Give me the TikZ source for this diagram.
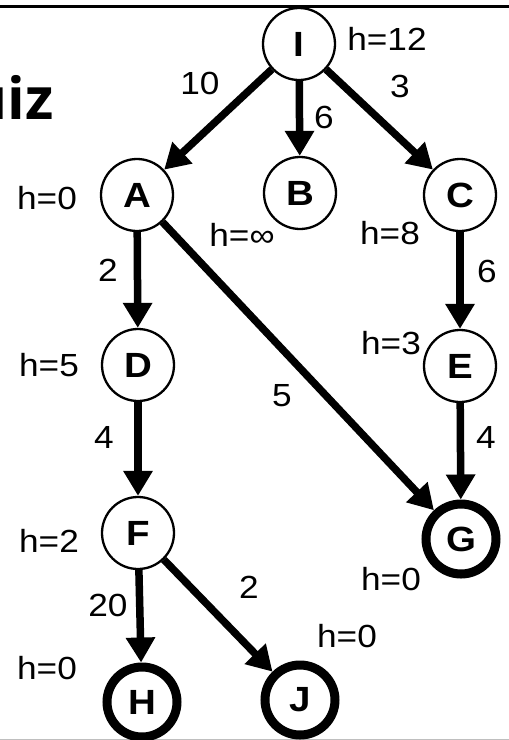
\documentclass[tikz,border=0pt]{standalone}
\usepackage{fontspec}
\setmainfont{Liberation Sans}
\newfontfamily\lblfont[FakeStretch=1.1]{Liberation Sans}
\newfontfamily\nodefont[FakeStretch=1.1]{Liberation Sans}
\newfontfamily\quizfont{Open Sans}
\usetikzlibrary{arrows.meta}
\begin{document}
\begin{tikzpicture}[x=1pt,y=-1pt,
  state/.style={circle,draw,line width=2.3pt,minimum size=72pt,inner sep=0pt,
    font=\nodefont\bfseries\fontsize{35}{35}\selectfont},
  goal/.style={state,line width=9pt,minimum size=70pt},
  lbl/.style={font=\lblfont\fontsize{32}{32}\selectfont,inner sep=0pt},
  arr/.style={line width=7.5pt,-{Triangle[length=25pt,width=28pt]}}
]
\useasboundingbox (0,0) rectangle (509,740);
\fill[white] (0,0) rectangle (509,740);
\draw[line width=3pt] (0,6) -- (509,6);
\draw[gray!50,line width=1pt] (0,739) -- (509,739);
\node[anchor=base east,font=\quizfont\fontsize{58}{58}\selectfont\bfseries,inner sep=0pt] (title) at (54,119) {Quiz};

\node[state] (I) at (299,44) {I};
\node[state] (A) at (137,195) {A};
\node[state] (B) at (300,193) {B};
\node[state] (C) at (460,195) {C};
\node[state] (D) at (138,365) {D};
\node[state] (E) at (460,366) {E};
\node[state] (F) at (138,533) {F};
\node[goal] (G) at (461,539) {G};
\node[goal] (H) at (142,702) {H};
\node[goal] (J) at (300,700) {J};

\draw[arr] (I) -- (A);
\draw[arr] (I) -- (B);
\draw[arr] (I) -- (C);
\draw[arr] (A) -- (D);
\draw[arr] (A) -- (G);
\draw[arr] (C) -- (E);
\draw[arr] (D) -- (F);
\draw[arr] (E) -- (G);
\draw[arr] (F) -- (H);
\draw[arr] (F) -- (J);

\node[lbl] (hI) at (387,39) {h=12};
\node[lbl] (wIA) at (200,83) {10};
\node[lbl] (wIB) at (324,117) {6};
\node[lbl] (wIC) at (400,86) {3};
\node[lbl] (hA) at (47,198) {h=0};
\node[lbl] (hB) at (242,235) {h=∞};
\node[lbl] (hC) at (390,233) {h=8};
\node[lbl] (wAD) at (108,270) {2};
\node[lbl] (wCE) at (487,271) {6};
\node[lbl] (hD) at (49,365) {h=5};
\node[lbl] (hE) at (391,343) {h=3};
\node[lbl] (wAG) at (282,396) {5};
\node[lbl] (wDF) at (104,437) {4};
\node[lbl] (wEG) at (486,437) {4};
\node[lbl] (hF) at (49,541) {h=2};
\node[lbl] (hG) at (391,579) {h=0};
\node[lbl] (wFJ) at (249,587) {2};
\node[lbl] (wFH) at (108,605) {20};
\node[lbl] (hJ) at (347,636) {h=0};
\node[lbl] (hH) at (47,668) {h=0};
\end{tikzpicture}
\end{document}
